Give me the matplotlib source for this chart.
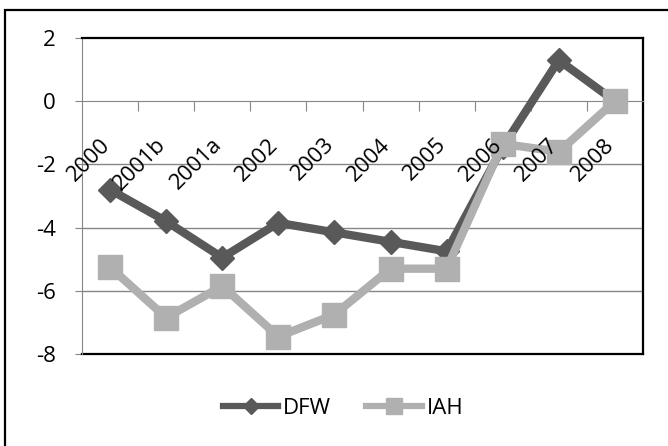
import matplotlib.pyplot as plt
from matplotlib.lines import Line2D
from matplotlib.patches import Rectangle

#####       data       #####
years = ["2000", "2001b", "2001a", "2002", "2003", "2004", "2005", "2006", "2007", "2008"]
dfw = [-2.8, -3.8, -4.95, -3.85, -4.15, -4.45, -4.75, -1.45, 1.3, 0.0]
iah = [-5.25, -6.85, -5.85, -7.45, -6.75, -5.3, -5.3, -1.35, -1.6, 0.0]

dfw_col = "#595959"
iah_col = "#b0b0b0"
grid_col = "#868686"

plt.rcParams['font.family'] = ['Open Sans', 'DejaVu Sans']
plt.rcParams['font.size'] = 16
plt.rcParams['axes.unicode_minus'] = False

W, H = 668, 446
fig = plt.figure(figsize=(W / 100, H / 100), dpi=100)

# chart frame
fig.patches.append(Rectangle((5 / W, -0.1), 1.2, 1 - 10 / H + 0.1, transform=fig.transFigure,
                             fill=False, edgecolor="black", lw=1.6))

ax = fig.add_axes([82 / W, 1 - 354 / H, 561 / W, 316 / H])
x = list(range(len(years)))

ax.plot(x, dfw, color=dfw_col, lw=6, marker="D", ms=12.5, zorder=3)
ax.plot(x, iah, color=iah_col, lw=6, marker="s", ms=17, zorder=4)

ax.set_xlim(-0.5, len(years) - 0.5)
ax.set_ylim(-8, 2)
ax.set_yticks([-8, -6, -4, -2, 0, 2])
for v in [-6, -4, -2]:
    ax.axhline(v, color=grid_col, lw=1, zorder=1)
ax.axhline(-8, color="black", lw=1.6, zorder=2, clip_on=False)

# category axis sits at y=0
ax.spines['bottom'].set_position(('data', 0))
ax.spines['bottom'].set_color(grid_col)
ax.spines['left'].set_color(grid_col)
ax.spines['top'].set_linewidth(1.6)
ax.spines['right'].set_linewidth(1.6)
ax.set_xticks([i + 0.5 for i in range(len(years))])
ax.set_xticklabels([])
ax.tick_params(axis='x', direction='out', length=7, color=grid_col)
ax.tick_params(axis='y', direction='out', length=5, color=grid_col, pad=14)

for i, lab in enumerate(years):
    ax.annotate(lab, xy=(i, 0), xytext=(4, -33), textcoords='offset pixels',
                rotation=45, ha='right', va='top', zorder=6)

handles = [Line2D([], [], color=dfw_col, lw=4.5, marker="D", ms=8),
           Line2D([], [], color=iah_col, lw=4.5, marker="s", ms=11)]
fig.legend(handles, ["DFW", "IAH"], loc='center', bbox_to_anchor=(343 / W, 1 - 408 / H),
           ncol=2, frameon=False, handlelength=2.5, columnspacing=1.6, handletextpad=0.2)

fig.savefig("out.png", dpi=100)
